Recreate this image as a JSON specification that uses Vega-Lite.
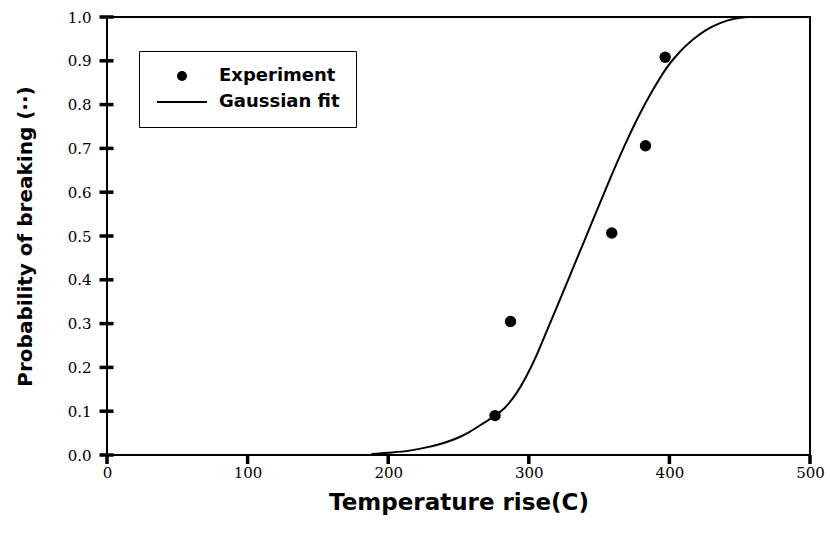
{
  "$schema": "https://vega.github.io/schema/vega-lite/v6.json",
  "width": 703,
  "height": 438,
  "autosize": {"type": "none"},
  "padding": {"left": 107, "top": 17, "right": 20, "bottom": 81},
  "background": "white",
  "config": {
    "view": {"stroke": "black", "strokeWidth": 2},
    "axis": {
      "grid": false,
      "domain": false,
      "ticks": true,
      "tickOpacity": 0,
      "tickSize": 7,
      "labelColor": "black",
      "labelFont": "DejaVu Serif",
      "labelFontSize": 15,
      "titleColor": "black",
      "titleFont": "DejaVu Sans",
      "titleFontWeight": "bold"
    }
  },
  "datasets": {
    "experiment": [
      {"t": 276, "p": 0.09, "series": "Experiment"},
      {"t": 287, "p": 0.305, "series": "Experiment"},
      {"t": 359, "p": 0.507, "series": "Experiment"},
      {"t": 383, "p": 0.706, "series": "Experiment"},
      {"t": 397, "p": 0.908, "series": "Experiment"}
    ],
    "fit": [
      {"t": 188, "p": 0.002}, {"t": 200, "p": 0.005}, {"t": 215, "p": 0.01},
      {"t": 228, "p": 0.018}, {"t": 240, "p": 0.028}, {"t": 250, "p": 0.04},
      {"t": 258, "p": 0.053}, {"t": 266, "p": 0.069}, {"t": 275, "p": 0.088},
      {"t": 283, "p": 0.108}, {"t": 291, "p": 0.14}, {"t": 298, "p": 0.178},
      {"t": 305, "p": 0.224}, {"t": 312, "p": 0.277}, {"t": 320, "p": 0.338},
      {"t": 328, "p": 0.4}, {"t": 336, "p": 0.462}, {"t": 344, "p": 0.524},
      {"t": 352, "p": 0.586}, {"t": 358, "p": 0.632}, {"t": 365, "p": 0.684},
      {"t": 372, "p": 0.733}, {"t": 379, "p": 0.779}, {"t": 388, "p": 0.832},
      {"t": 398, "p": 0.884}, {"t": 407, "p": 0.919}, {"t": 417, "p": 0.949},
      {"t": 426, "p": 0.97}, {"t": 436, "p": 0.986}, {"t": 446, "p": 0.996},
      {"t": 457, "p": 1.0}
    ],
    "xticks": [{"t": 0}, {"t": 100}, {"t": 200}, {"t": 300}, {"t": 400}, {"t": 500}],
    "yticks": [
      {"p": 0}, {"p": 0.1}, {"p": 0.2}, {"p": 0.3}, {"p": 0.4}, {"p": 0.5},
      {"p": 0.6}, {"p": 0.7}, {"p": 0.8}, {"p": 0.9}, {"p": 1.0}
    ]
  },
  "layer": [
    {
      "data": {"name": "fit"},
      "mark": {"type": "line", "color": "black", "strokeWidth": 2, "interpolate": "monotone", "clip": true},
      "encoding": {
        "x": {
          "field": "t", "type": "quantitative",
          "scale": {"domain": [0, 500], "nice": false},
          "axis": {
            "values": [0, 100, 200, 300, 400, 500],
            "labelPadding": 3,
            "labelFlush": false,
            "title": "Temperature rise(C)",
            "titleFontSize": 23,
            "titlePadding": 11
          }
        },
        "y": {
          "field": "p", "type": "quantitative",
          "scale": {"domain": [0, 1], "nice": false},
          "axis": {
            "values": [0, 0.1, 0.2, 0.3, 0.4, 0.5, 0.6, 0.7, 0.8, 0.9, 1.0],
            "format": ".1f",
            "labelPadding": 9,
            "title": "Probability of breaking (··)",
            "titleFontSize": 20,
            "titlePadding": 32
          }
        }
      }
    },
    {
      "data": {"name": "xticks"},
      "mark": {"type": "tick", "orient": "vertical", "color": "black", "opacity": 1, "size": 9, "thickness": 3.5, "yOffset": 4.5},
      "encoding": {
        "x": {"field": "t", "type": "quantitative"},
        "y": {"datum": 0}
      }
    },
    {
      "data": {"name": "yticks"},
      "mark": {"type": "tick", "orient": "horizontal", "color": "black", "opacity": 1, "size": 14, "thickness": 3.5, "xOffset": -0.5},
      "encoding": {
        "y": {"field": "p", "type": "quantitative"},
        "x": {"datum": 0}
      }
    },
    {
      "data": {"name": "experiment"},
      "mark": {"type": "point", "filled": true, "color": "black", "opacity": 1, "size": 130},
      "encoding": {
        "x": {"field": "t", "type": "quantitative"},
        "y": {"field": "p", "type": "quantitative"},
        "shape": {
          "field": "series", "type": "nominal",
          "scale": {"domain": ["Experiment", "Gaussian fit"], "range": ["circle", "M-5,-0.2L5,-0.2L5,0.2L-5,0.2Z"]},
          "legend": {
            "orient": "none",
            "legendX": 32,
            "legendY": 34,
            "title": null,
            "padding": 16,
            "strokeColor": "black",
            "symbolSize": 100,
            "symbolStrokeWidth": 1,
            "symbolFillColor": "black",
            "symbolStrokeColor": "black",
            "symbolOpacity": 1,
            "symbolOffset": 18,
            "labelOffset": 28,
            "rowPadding": 8,
            "labelFont": "DejaVu Sans",
            "labelFontWeight": "bold",
            "labelFontSize": 18,
            "labelColor": "black",
            "encode": {
              "legend": {"update": {"strokeWidth": {"value": 1.5}}},
              "symbols": {"update": {"stroke": {"value": "black"}, "strokeWidth": {"value": 1}, "fill": {"value": "black"}, "opacity": {"value": 1}}}
            }
          }
        }
      }
    }
  ]
}
